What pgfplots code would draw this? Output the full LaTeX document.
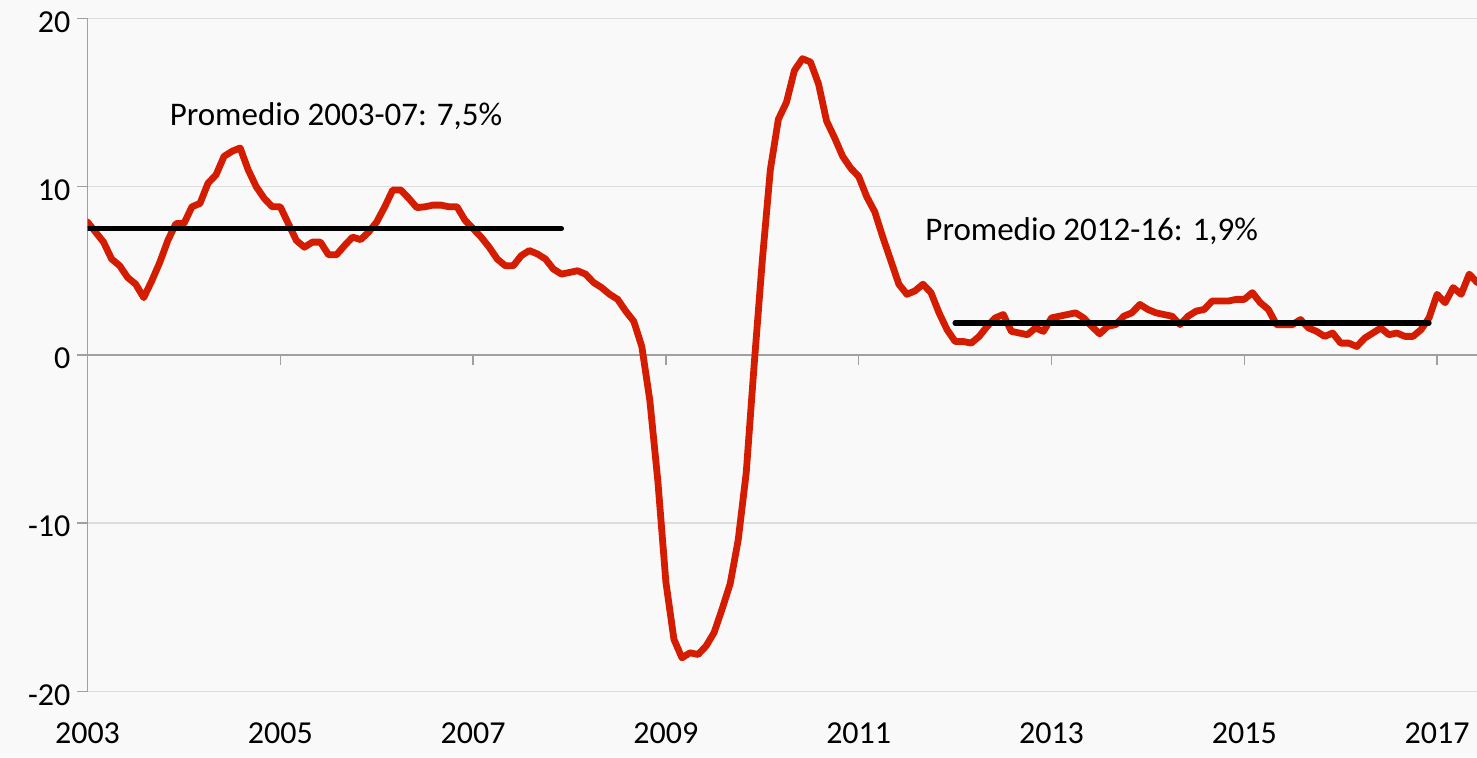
\documentclass[border=0pt]{standalone}
\usepackage{pgfplots}
\pgfplotsset{compat=1.18}
\usepackage{pgfplotstable}
\usepackage{fontspec}
\setmainfont{Carlito}
\definecolor{bgcol}{RGB}{249,249,249}
\definecolor{gridgray}{RGB}{221,221,221}
\definecolor{axisgray}{RGB}{160,160,160}
\definecolor{linered}{RGB}{212,28,0}
\pgfplotstableread{
m v
0 7.9
1 7.3
2 6.7
3 5.7
4 5.3
5 4.6
6 4.2
7 3.4
8 4.4
9 5.5
10 6.8
11 7.8
12 7.8
13 8.8
14 9.0
15 10.2
16 10.7
17 11.8
18 12.1
19 12.3
20 11.0
21 10.0
22 9.3
23 8.8
24 8.8
25 7.8
26 6.8
27 6.4
28 6.7
29 6.7
30 5.95
31 5.95
32 6.5
33 7.0
34 6.85
35 7.3
36 7.9
37 8.8
38 9.8
39 9.8
40 9.3
41 8.75
42 8.8
43 8.9
44 8.9
45 8.8
46 8.8
47 8.0
48 7.5
49 7.0
50 6.4
51 5.7
52 5.3
53 5.3
54 5.9
55 6.2
56 6.0
57 5.7
58 5.1
59 4.8
60 4.9
61 5.0
62 4.8
63 4.3
64 4.0
65 3.6
66 3.3
67 2.6
68 2.0
69 0.5
70 -2.7
71 -7.5
72 -13.5
73 -16.9
74 -18.0
75 -17.7
76 -17.8
77 -17.3
78 -16.5
79 -15.1
80 -13.6
81 -11.0
82 -7.0
83 -0.5
84 5.6
85 11.0
86 14.0
87 15.0
88 16.9
89 17.6
90 17.4
91 16.1
92 13.9
93 12.9
94 11.8
95 11.1
96 10.6
97 9.4
98 8.5
99 7.0
100 5.6
101 4.2
102 3.6
103 3.8
104 4.2
105 3.7
106 2.5
107 1.5
108 0.8
109 0.8
110 0.7
111 1.1
112 1.7
113 2.2
114 2.4
115 1.4
116 1.3
117 1.2
118 1.6
119 1.4
120 2.2
121 2.3
122 2.4
123 2.5
124 2.2
125 1.7
126 1.25
127 1.7
128 1.8
129 2.3
130 2.5
131 3.0
132 2.7
133 2.5
134 2.4
135 2.3
136 1.8
137 2.3
138 2.6
139 2.7
140 3.2
141 3.2
142 3.2
143 3.3
144 3.3
145 3.7
146 3.1
147 2.7
148 1.8
149 1.8
150 1.8
151 2.1
152 1.6
153 1.4
154 1.1
155 1.3
156 0.7
157 0.7
158 0.5
159 1.0
160 1.3
161 1.6
162 1.2
163 1.3
164 1.1
165 1.1
166 1.5
167 2.2
168 3.6
169 3.1
170 4.0
171 3.6
172 4.8
173 4.3
}\datatable
\pgfplotstableread{
m v
0 7.5
59 7.5
}\avgA
\pgfplotstableread{
m v
108 1.9
167 1.9
}\avgB
\begin{document}
\begin{tikzpicture}
\path[use as bounding box, fill=bgcol] (0,0) rectangle (738.5pt,378.5pt);
\pgfplotsset{
  common/.style={
    at={(43.75pt,32.75pt)}, anchor=south west,
    scale only axis, width=694.75pt, height=336.6pt,
    xmin=0, xmax=172.97, ymin=-20, ymax=20,
    ticklabel style={font=\fontsize{16}{19}\selectfont, text=black},
  }
}
% axis A: grid, y axis, labels
\begin{axis}[common,
  axis x line*=bottom, axis y line*=left,
  x axis line style={draw=none},
  y axis line style={draw=axisgray, line width=0.75pt},
  xtick={0,24,48,72,96,120,144,168},
  xticklabels={2003,2005,2007,2009,2011,2013,2015,2017},
  ytick={-20,-10,0,10,20},
  yticklabels={-20,-10,0,10,20},
  xtick style={draw=none},
  ytick align=outside,
  major tick length=5pt,
  ytick style={axisgray, line width=0.75pt},
  ymajorgrids,
  grid style={gridgray, line width=0.75pt},
  xticklabel style={yshift=-12.3pt},
  yticklabel style={yshift=-1.75pt},
]
\end{axis}
% axis B: zero line, ticks, data
\begin{axis}[common,
  axis x line=middle, axis y line=none,
  x axis line style={draw=axisgray, line width=0.75pt, -},
  xtick={24,48,72,96,120,144,168},
  xticklabels={,,,,,,,},
  ytick=\empty,
  xtick align=outside,
  major tick length=5pt,
  xtick style={axisgray, line width=0.75pt},
]
\addplot[linered, line width=3.4pt, line join=round, line cap=round] table[x=m, y=v] {\datatable};
\addplot[black, line width=2.6pt, line cap=round] table[x=m, y=v] {\avgA};
\addplot[black, line width=2.6pt, line cap=round] table[x=m, y=v] {\avgB};
\node[anchor=base west, inner sep=0pt, font=\fontsize{16.5}{20}\selectfont] at (axis cs:10.19,13.61) {Promedio 2003-07: 7,5\%};
\node[anchor=base west, inner sep=0pt, font=\fontsize{16.5}{20}\selectfont] at (axis cs:104.26,6.82) {Promedio 2012-16: 1,9\%};
\end{axis}
\end{tikzpicture}
\end{document}
